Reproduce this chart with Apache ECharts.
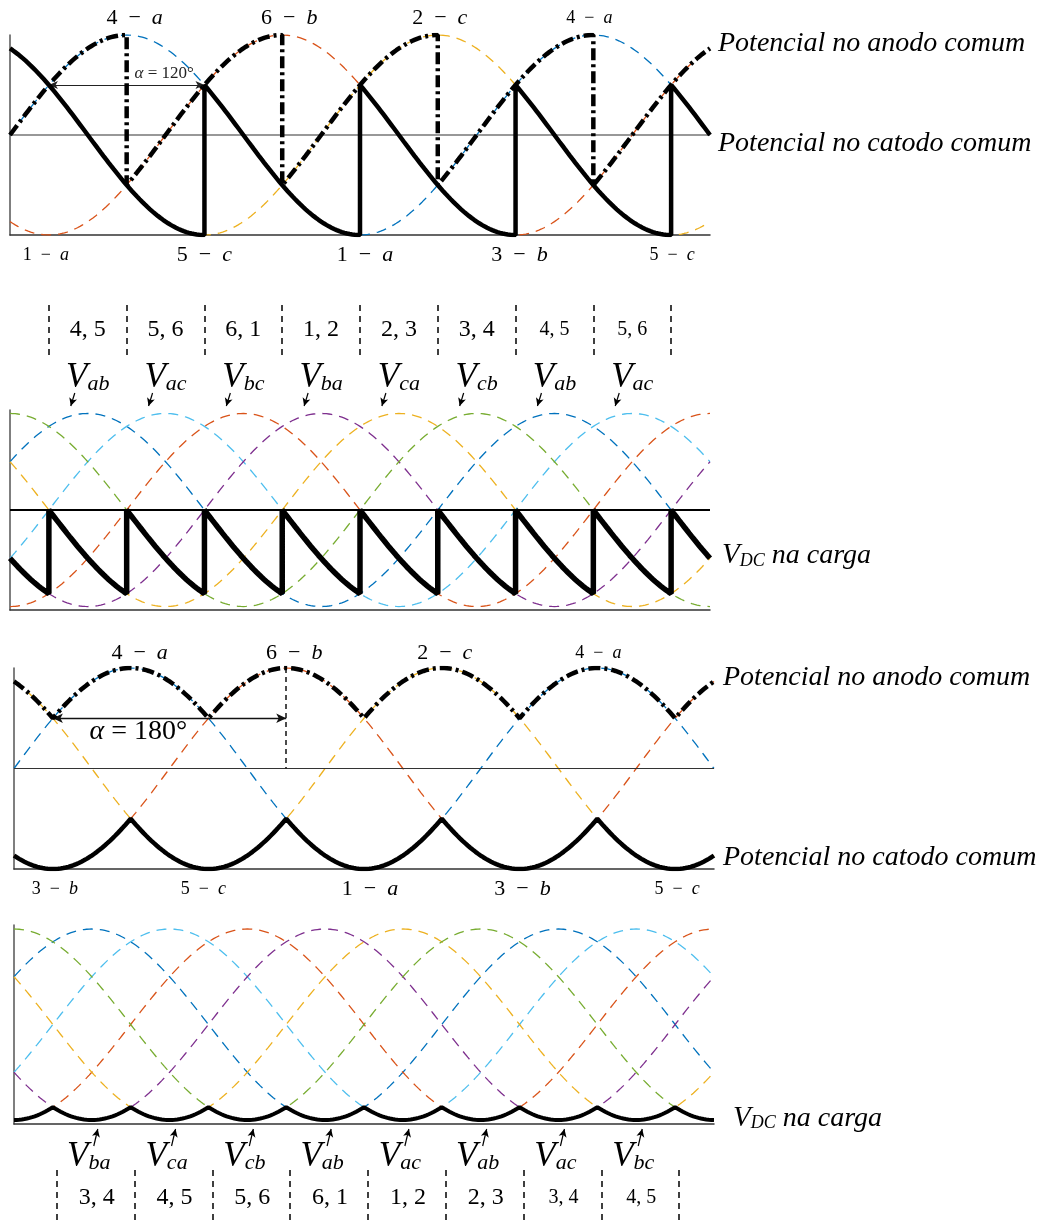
<!DOCTYPE html>
<html>
<head>
<meta charset="utf-8">
<script src="https://cdn.jsdelivr.net/npm/echarts@6/dist/echarts.min.js"></script>
<style>
  html, body { margin: 0; padding: 0; background: #fff; }
  #chart { width: 1037px; height: 1230px; }
</style>
</head>
<body>
<div id="chart"></div>
<script>
// ---------- waveform data (electrical degrees) ----------
const thetaMax = 540;

// phase voltages: name and angle of the positive peak
const phaseNames = ['a', 'b', 'c'];
const phasePeaks = [90, 210, 330];

// line-to-line voltages: name and angle of the positive peak
const lineNames = ['ab', 'ac', 'bc', 'ba', 'ca', 'cb'];
const linePeaks = [60, 120, 180, 240, 300, 360];

// natural commutation angles (where the thyristor pairs change)
const commutations = [30, 90, 150, 210, 270, 330, 390, 450, 510];

// firing angle 120°: which phase each group follows and when it switches
const alpha120 = 120;
const anodeSwitch120 = [90, 210, 330, 450];
const anodePhases120 = ['a', 'b', 'c', 'a', 'b'];
const cathodeSwitch120 = [150, 270, 390, 510];
const cathodePhases120 = ['c', 'a', 'b', 'c', 'a'];
const loadLines120 = ['ba', 'ca', 'cb', 'ab', 'ac', 'bc', 'ba', 'ca', 'cb', 'ab'];

// firing angle 180°
const alpha180 = 180;

// annotation texts
const peakAngles = [90, 210, 330, 450];
const valleyAngles = [30, 150, 270, 390, 510];
const topLabels120 = ['4 − a', '6 − b', '2 − c', '4 − a'];
const bottomLabels120 = ['1 − a', '5 − c', '1 − a', '3 − b', '5 − c'];
const pairs120 = ['4, 5', '5, 6', '6, 1', '1, 2', '2, 3', '3, 4', '4, 5', '5, 6'];
const vLabels120 = ['ab', 'ac', 'bc', 'ba', 'ca', 'cb', 'ab', 'ac'];
const topLabels180 = ['4 − a', '6 − b', '2 − c', '4 − a'];
const bottomLabels180 = ['3 − b', '5 − c', '1 − a', '3 − b', '5 − c'];
const pairs180 = ['3, 4', '4, 5', '5, 6', '6, 1', '1, 2', '2, 3', '3, 4', '4, 5'];
const vLabels180 = ['ba', 'ca', 'cb', 'ab', 'ac', 'ab', 'ac', 'bc'];

// ---------- styling ----------
const phaseColors = { a: '#0072BD', b: '#D95319', c: '#EDB120' };
const lineColors = { ab: '#0072BD', ac: '#4DBEEE', bc: '#D95319', ba: '#7E2F8E', ca: '#EDB120', cb: '#77AC30' };
const serif = "'Liberation Serif', 'Times New Roman', serif";
const ink = '#000';
const rich = {
  n:  { fontFamily: serif, fontSize: 22, color: ink },
  i:  { fontFamily: serif, fontSize: 22, fontStyle: 'italic', color: ink },
  ns: { fontFamily: serif, fontSize: 18, color: ink },
  is: { fontFamily: serif, fontSize: 18, fontStyle: 'italic', color: ink },
  p:  { fontFamily: serif, fontSize: 24, color: ink },
  ps: { fontFamily: serif, fontSize: 20, color: ink },
  V:  { fontFamily: serif, fontSize: 35, fontStyle: 'italic', color: ink, lineHeight: 35, verticalAlign: 'bottom' },
  s:  { fontFamily: serif, fontSize: 22, fontStyle: 'italic', color: ink, lineHeight: 14, verticalAlign: 'bottom' },
  VD: { fontFamily: serif, fontSize: 29, fontStyle: 'italic', color: ink, lineHeight: 29, verticalAlign: 'bottom' },
  sd: { fontFamily: serif, fontSize: 18, fontStyle: 'italic', color: ink, lineHeight: 10, verticalAlign: 'bottom' },
  td: { fontFamily: serif, fontSize: 28, fontStyle: 'italic', color: ink, lineHeight: 23, verticalAlign: 'bottom' },
  t:  { fontFamily: serif, fontSize: 28, fontStyle: 'italic', color: ink },
  ga: { fontFamily: serif, fontSize: 17, fontStyle: 'italic', color: '#222' },
  gn: { fontFamily: serif, fontSize: 17, color: '#222' },
  GA: { fontFamily: serif, fontSize: 28, fontStyle: 'italic', color: ink },
  GN: { fontFamily: serif, fontSize: 28, color: ink }
};

// plotting areas: two waveform panels per firing angle plus a label strip each
const grids = [
  { left: 10, top: 35,   width: 700, height: 200 },  // 0: phases, alpha 120
  { left: 10, top: 290,  width: 700, height: 120 },  // 1: label strip
  { left: 10, top: 410,  width: 700, height: 200 },  // 2: load, alpha 120
  { left: 14, top: 668,  width: 700, height: 201 },  // 3: phases, alpha 180
  { left: 14, top: 925,  width: 700, height: 199 },  // 4: load, alpha 180
  { left: 14, top: 1124, width: 700, height: 106 }   // 5: label strip
];
const yRanges = [[-1, 1], [0, 120], [-1.036, 1.036], [-1, 1], [-1.042, 1.042], [0, 106]];
const isStrip = [false, true, false, false, false, true];
const degPerPx = thetaMax / 700;

// ---------- curve sampling ----------
const STEP = 2;
const angles = [];
for (let t = 0; t <= thetaMax; t += STEP) angles.push(t);
const wave = peak => t => Math.cos((t - peak) * Math.PI / 180);
const phaseWave = n => wave(phasePeaks[phaseNames.indexOf(n)]);
const lineWave = n => wave(linePeaks[lineNames.indexOf(n)]);
const sampled = f => angles.map(t => [t, f(t)]);

// follow one waveform per interval, with vertical steps at the switching angles
function piecewise(switches, names, waveOf) {
  const edges = [0, ...switches, thetaMax];
  const pts = [];
  names.forEach((n, k) => {
    const f = waveOf(n);
    for (let t = edges[k]; t < edges[k + 1]; t += STEP) pts.push([t, f(t)]);
    pts.push([edges[k + 1], f(edges[k + 1])]);
  });
  return pts;
}
function envelope(names, waveOf, pick) {
  return angles.map(t => [t, pick(...names.map(n => waveOf(n)(t)))]);
}

// ---------- series builders ----------
function dashed(g, data, color) {
  return { type: 'line', xAxisIndex: g, yAxisIndex: g, data, symbol: 'none', silent: true, z: 2,
           lineStyle: { color, width: 1.3, type: [10, 7] } };
}
function thick(g, data, width, type) {
  return { type: 'line', xAxisIndex: g, yAxisIndex: g, data, symbol: 'none', silent: true, z: 5,
           lineStyle: { color: '#000', width, type: type || 'solid' } };
}
function zeroLine(g, color, width) {
  return { type: 'line', xAxisIndex: g, yAxisIndex: g, data: [[0, 0], [thetaMax, 0]], symbol: 'none',
           silent: true, z: 3, lineStyle: { color, width } };
}
function textAt(x, y, formatter, extra) {
  return { value: [x, y], label: Object.assign({ show: true, position: 'inside', formatter, rich, opacity: 1 }, extra || {}) };
}
// "4 − a": upright digit, italic phase letter, wide spacing round the minus sign
function mathText(s, small) {
  const num = s.slice(0, -1).replace(/ /g, '\u2002'), letter = s.slice(-1);
  return small ? `{ns|${num}}{is|${letter}}` : `{n|${num}}{i|${letter}}`;
}
function segLines(pairs, style, symbol, symbolSize) {
  return {
    silent: true, animation: false, symbol, symbolSize: symbolSize || 7,
    label: { show: false }, lineStyle: style,
    data: pairs.map(([p, q]) => [{ coord: p }, { coord: q }])
  };
}
function textSeries(g, items, markLine) {
  const s = { type: 'scatter', xAxisIndex: g, yAxisIndex: g, symbolSize: 0, clip: false, silent: true, z: 10,
              itemStyle: { opacity: 1 }, data: items };
  if (markLine) s.markLine = markLine;
  return s;
}
function textSeriesLines(g, pairs, style, symbol, symbolSize) {
  return { type: 'line', xAxisIndex: g, yAxisIndex: g, data: [], symbol: 'none', silent: true, z: 9,
           markLine: segLines(pairs, style, symbol, symbolSize) };
}

const series = [];
const mids = commutations.slice(0, -1).map((c, k) => (c + commutations[k + 1]) / 2);

// ===== panel 0: phase potentials, alpha = 120° =====
phaseNames.forEach(n => series.push(dashed(0, sampled(phaseWave(n)), phaseColors[n])));
series.push(zeroLine(0, '#333', 1.2));
series.push(thick(0, piecewise(cathodeSwitch120, cathodePhases120, phaseWave), 4.5));
series.push(thick(0, piecewise(anodeSwitch120, anodePhases120, phaseWave), 4.5, [12, 4, 3, 4]));
{
  const topDx = [8, 7, 2, -4], botDx = [-3, 0, 5, 4, 1];
  const items = [];
  peakAngles.forEach((t, k) => items.push(textAt(t + topDx[k] * degPerPx, 1.17, mathText(topLabels120[k], k === 3))));
  valleyAngles.forEach((t, k) => items.push(textAt(t + botDx[k] * degPerPx, -1.2,
    mathText(bottomLabels120[k], k === 0 || k === 4))));
  items.push(textAt(119, 0.61, `{ga|α}{gn| = ${alpha120}°}`));
  items.push(textAt(thetaMax, 0.91, '{t|Potencial no anodo comum}', { position: 'right', distance: 8 }));
  items.push(textAt(thetaMax, -0.09, '{t|Potencial no catodo comum}', { position: 'right', distance: 8 }));
  series.push(textSeries(0, items, segLines([[[30, 0.5], [30 + alpha120, 0.5]]],
    { color: '#222', width: 1.1, type: 'solid' }, ['arrow', 'arrow'], [6, 9])));
}

// ===== strip 1: conducting pairs and line voltages =====
{
  const items = [];
  mids.forEach((m, k) => {
    items.push(textAt(m, 80, k >= 6 ? `{ps|${pairs120[k]}}` : `{p|${pairs120[k]}}`));
    items.push(textAt(m, 32, `{V|V}{s|${vLabels120[k]}}`));
  });
  series.push(textSeries(1, items));
  series.push(textSeriesLines(1, commutations.map(c => [[c, 105], [c, 52]]),
    { color: '#000', width: 1.5, type: [6, 5] }, 'none'));
  series.push(textSeriesLines(1, mids.map(m => [[m - 13 * degPerPx, 17], [m - 17 * degPerPx, 4]]),
    { color: '#000', width: 1.2, type: 'solid' }, ['none', 'arrow'], [6, 8]));
}

// ===== panel 2: load voltage, alpha = 120° =====
lineNames.forEach(n => series.push(dashed(2, sampled(lineWave(n)), lineColors[n])));
series.push(zeroLine(2, '#000', 2));
series.push(thick(2, piecewise(commutations, loadLines120, lineWave), 5.5));
series.push(textSeries(2, [textAt(thetaMax, -0.47, '{VD|V}{sd|DC}{td| na carga}', { position: 'right', distance: 12 })]));

// ===== panel 3: phase potentials, alpha = 180° =====
phaseNames.forEach(n => series.push(dashed(3, sampled(phaseWave(n)), phaseColors[n])));
series.push(zeroLine(3, '#333', 1.2));
series.push(thick(3, envelope(phaseNames, phaseWave, Math.min), 4.5));
series.push(thick(3, envelope(phaseNames, phaseWave, Math.max), 4.5, [12, 4, 3, 4]));
{
  const topDx = [9, 8, 3, 1], botDx = [2, -5, 6, 3, 2];
  const items = [];
  peakAngles.forEach((t, k) => items.push(textAt(t + topDx[k] * degPerPx, 1.15, mathText(topLabels180[k], k === 3))));
  valleyAngles.forEach((t, k) => items.push(textAt(t + botDx[k] * degPerPx, -1.2,
    mathText(bottomLabels180[k], k === 0 || k === 1 || k === 4))));
  items.push(textAt(96, 0.37, `{GA|α}{GN| = ${alpha180}°}`));
  items.push(textAt(thetaMax, 0.905, '{t|Potencial no anodo comum}', { position: 'right', distance: 9 }));
  items.push(textAt(thetaMax, -0.885, '{t|Potencial no catodo comum}', { position: 'right', distance: 9 }));
  series.push(textSeries(3, items, segLines([[[30, 0.5], [30 + alpha180, 0.5]]],
    { color: '#111', width: 1.3, type: 'solid' }, ['arrow', 'arrow'], [7, 10])));
  series.push(textSeriesLines(3, [[[30 + alpha180, 1], [30 + alpha180, 0]]],
    { color: '#111', width: 1.5, type: [5, 4] }, 'none'));
}

// ===== panel 4: load voltage, alpha = 180° =====
lineNames.forEach(n => series.push(dashed(4, sampled(lineWave(n)), lineColors[n])));
series.push(thick(4, envelope(lineNames, lineWave, Math.min), 4));
series.push(textSeries(4, [textAt(thetaMax, -0.98, '{VD|V}{sd|DC}{td| na carga}', { position: 'right', distance: 19 })]));

// ===== strip 5: line voltages and conducting pairs =====
{
  const items = [];
  mids.forEach((m, k) => {
    items.push(textAt(m + 5 * degPerPx, 32, k >= 6 ? `{ps|${pairs180[k]}}` : `{p|${pairs180[k]}}`));
    items.push(textAt(m - 3 * degPerPx, 73, `{V|V}{s|${vLabels180[k]}}`));
  });
  series.push(textSeries(5, items));
  series.push(textSeriesLines(5, commutations.map(c => [[c + 4 * degPerPx, 60], [c + 4 * degPerPx, 8]]),
    { color: '#000', width: 1.5, type: [6, 5] }, 'none'));
  series.push(textSeriesLines(5, mids.map(m => [[m + 2 * degPerPx, 84], [m + 6 * degPerPx, 101]]),
    { color: '#000', width: 1.2, type: 'solid' }, ['none', 'arrow'], [6, 8]));
}

// ---------- axes ----------
const xAxis = grids.map((g, i) => ({
  gridIndex: i, type: 'value', min: 0, max: thetaMax, show: !isStrip[i],
  axisLine: { show: true, onZero: false, lineStyle: { color: '#333', width: 1.5 } },
  axisTick: { show: false }, axisLabel: { show: false }, splitLine: { show: false }
}));
const yAxis = grids.map((g, i) => ({
  gridIndex: i, type: 'value', min: yRanges[i][0], max: yRanges[i][1], show: !isStrip[i],
  axisLine: { show: true, onZero: false, lineStyle: { color: '#555', width: 1.5 } },
  axisTick: { show: false }, axisLabel: { show: false }, splitLine: { show: false }
}));

const chart = echarts.init(document.getElementById('chart'), null, { renderer: 'canvas' });
chart.setOption({
  animation: false,
  backgroundColor: '#fff',
  grid: grids,
  xAxis, yAxis, series
});
</script>
</body>
</html>
